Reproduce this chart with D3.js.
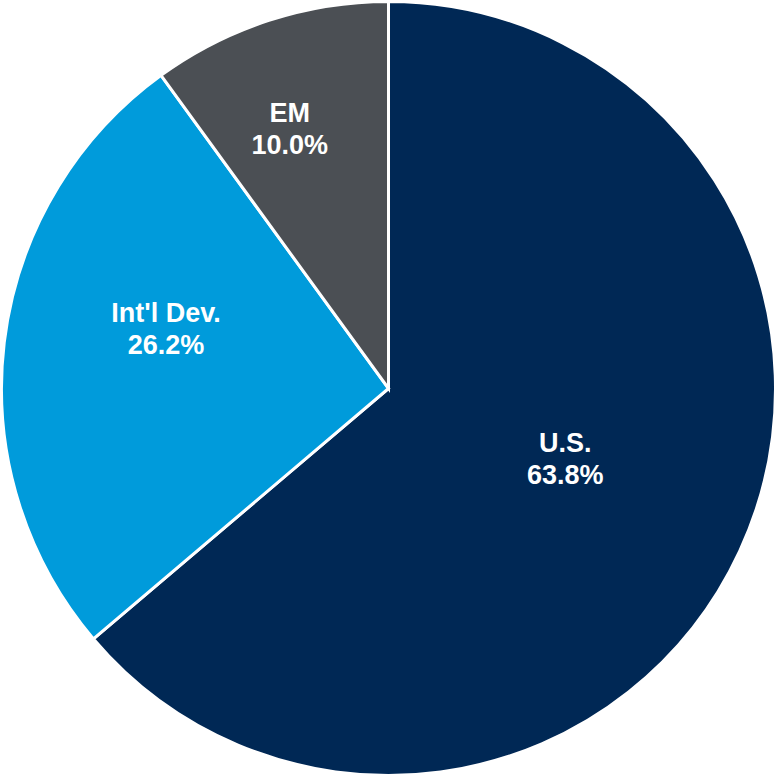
<!DOCTYPE html>
<html>
<head>
<meta charset="utf-8">
<script src="https://cdn.jsdelivr.net/npm/d3@7"></script>
<style>
  html, body { margin: 0; padding: 0; background: #ffffff; }
  svg { display: block; }
</style>
</head>
<body>
<svg id="chart" width="777" height="777"></svg>
<script>
// Regional allocation (%)
const regions = ["U.S.", "Int'l Dev.", "EM"];
const weights = [63.8, 26.2, 10.0];
const colors = ["#002855", "#009bdb", "#4b4f54"];

// Label nudges from the slice centroid, in pixels
const labelNudge = [[-34, -27.5], [8, -32], [-27, -39]];

const width = 777, height = 777;
const cx = 388.5, cy = 388.5, radius = 387;

const svg = d3.select("#chart");
const g = svg.append("g").attr("transform", `translate(${cx},${cy})`);

const data = regions.map((name, i) => ({ name, value: weights[i], color: colors[i], nudge: labelNudge[i] }));

const pie = d3.pie().sort(null).value(d => d.value);
const arcs = pie(data);

const arc = d3.arc().innerRadius(0).outerRadius(radius);
const labelArc = d3.arc().innerRadius(radius * 0.6).outerRadius(radius * 0.6);

g.selectAll("path.slice")
  .data(arcs)
  .join("path")
  .attr("class", "slice")
  .attr("d", arc)
  .attr("fill", d => d.data.color)
  .attr("stroke", "#ffffff")
  .attr("stroke-width", 3)
  .attr("stroke-linejoin", "miter");

const labels = g.selectAll("text.label")
  .data(arcs)
  .join("text")
  .attr("class", "label")
  .attr("text-anchor", "middle")
  .attr("fill", "#ffffff")
  .attr("font-family", "'Liberation Sans', Arial, sans-serif")
  .attr("font-weight", "bold")
  .attr("font-size", 27)
  .attr("transform", d => {
    const [x, y] = labelArc.centroid(d);
    return `translate(${x + d.data.nudge[0]},${y + d.data.nudge[1]})`;
  });

labels.append("tspan")
  .attr("x", 0)
  .attr("y", -6.5)
  .text(d => d.data.name);

labels.append("tspan")
  .attr("x", 0)
  .attr("y", 25.5)
  .text(d => d3.format(".1f")(d.data.value) + "%");
</script>
</body>
</html>
